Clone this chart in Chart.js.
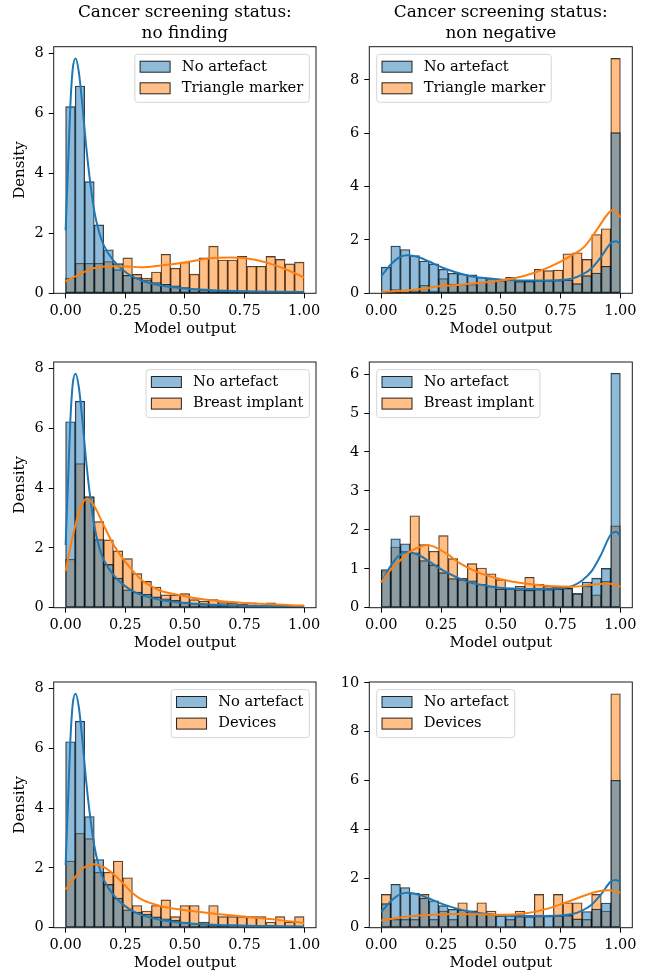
<!DOCTYPE html>
<html>
<head>
<meta charset="utf-8">
<script src="https://cdn.jsdelivr.net/npm/chart.js@4.4.0/dist/chart.umd.min.js"></script>
<style>
  html, body { margin: 0; padding: 0; background: #fff; }
  body { width: 647px; height: 976px; position: relative; overflow: hidden; }
  canvas { position: absolute; }
</style>
</head>
<body>
<canvas id="c0"></canvas>
<canvas id="c1"></canvas>
<canvas id="c2"></canvas>
<canvas id="c3"></canvas>
<canvas id="c4"></canvas>
<canvas id="c5"></canvas>
<script>
// bin centres (25 bins of width 0.04)
const binCenters = [0.02, 0.06, 0.10, 0.14, 0.18, 0.22, 0.26, 0.30, 0.34, 0.38, 0.42, 0.46, 0.50,
                    0.54, 0.58, 0.62, 0.66, 0.70, 0.74, 0.78, 0.82, 0.86, 0.90, 0.94, 0.98];

// histogram densities, status "no finding"
const noArtefactNoFinding = [6.22, 6.91, 3.72, 2.28, 1.45, 0.99, 0.60, 0.52, 0.45, 0.36, 0.30, 0.25, 0.19,
                             0.15, 0.12, 0.10, 0.08, 0.07, 0.06, 0.05, 0.05, 0.04, 0.04, 0.03, 0.03];
const triangleNoFinding = [0.51, 1.00, 1.00, 1.00, 1.06, 0.79, 1.18, 0.63, 0.51, 0.71, 1.30, 0.84, 1.04,
                           0.64, 1.18, 1.57, 1.11, 1.11, 1.23, 0.90, 0.90, 1.23, 1.13, 0.98, 1.04];
const implantNoFinding = [1.62, 4.82, 3.70, 2.88, 2.27, 1.90, 1.64, 1.14, 0.88, 0.69, 0.43, 0.43, 0.47,
                          0.27, 0.22, 0.27, 0.17, 0.16, 0.12, 0.16, 0.09, 0.16, 0.09, 0.09, 0.08];
const devicesNoFinding = [2.23, 3.16, 2.98, 1.86, 1.86, 2.23, 1.67, 0.74, 0.56, 0.74, 0.93, 0.37, 0.74,
                          0.74, 0.19, 0.74, 0.37, 0.37, 0.37, 0.37, 0.37, 0.19, 0.37, 0.19, 0.37];

// histogram densities, status "non negative"
const noArtefactNonNeg = [0.98, 1.77, 1.64, 1.41, 1.21, 1.10, 0.90, 0.75, 0.72, 0.69, 0.60, 0.55, 0.48,
                          0.50, 0.46, 0.45, 0.47, 0.47, 0.48, 0.50, 0.36, 0.66, 0.76, 1.01, 6.02];
const triangleNonNeg = [0.04, 0.14, 0.04, 0.08, 0.30, 0.08, 0.55, 0.35, 0.33, 0.33, 0.42, 0.47, 0.48,
                        0.60, 0.43, 0.45, 0.90, 0.85, 0.87, 1.48, 1.52, 1.27, 2.20, 2.42, 8.80];
const implantNonNeg = [0.95, 1.56, 1.45, 2.36, 1.62, 1.45, 1.85, 1.26, 0.76, 1.13, 1.02, 0.87, 0.72,
                       0.48, 0.55, 0.78, 0.60, 0.55, 0.52, 0.50, 0.36, 0.55, 0.33, 0.68, 2.10];
const devicesNonNeg = [1.36, 0.34, 0.34, 0.34, 1.36, 0.34, 0.68, 0.34, 1.02, 0.68, 1.02, 0.68, 0.00,
                       0.34, 0.68, 0.00, 1.36, 0.00, 1.36, 1.02, 1.02, 0.34, 1.36, 0.68, 9.55];

// KDE curves
const kdeNoArtNoFindingX = [0, 0.01, 0.02, 0.03, 0.042, 0.055, 0.07, 0.085, 0.10, 0.12, 0.14, 0.16, 0.20,
                            0.24, 0.28, 0.32, 0.40, 0.50, 0.60, 0.70, 0.80, 0.90, 1.00];
const kdeNoArtNoFindingY = [2.1, 4.2, 6.3, 7.5, 7.83, 7.4, 6.3, 5.0, 3.9, 2.75, 2.05, 1.6, 1.1,
                            0.78, 0.56, 0.42, 0.26, 0.16, 0.11, 0.08, 0.06, 0.05, 0.04];
const kdeTriangleNoFindingX = [0, 0.05, 0.114, 0.20, 0.26, 0.32, 0.39, 0.50, 0.60, 0.69, 0.755, 0.84, 0.92, 1.00];
const kdeTriangleNoFindingY = [0.40, 0.60, 0.83, 0.90, 0.89, 0.87, 0.92, 1.03, 1.16, 1.19, 1.17, 1.03, 0.81, 0.53];
const kdeImplantNoFindingX = [0, 0.03, 0.06, 0.09, 0.12, 0.16, 0.20, 0.24, 0.28, 0.32, 0.36, 0.40, 0.48, 0.56, 0.68, 0.84, 1.00];
const kdeImplantNoFindingY = [1.22, 2.4, 3.3, 3.65, 3.4, 2.75, 2.12, 1.64, 1.25, 0.92, 0.71, 0.56, 0.42, 0.30, 0.20, 0.12, 0.07];
const kdeDevicesNoFindingX = [0, 0.04, 0.08, 0.12, 0.16, 0.20, 0.24, 0.28, 0.32, 0.40, 0.48, 0.60, 0.76, 0.88, 1.00];
const kdeDevicesNoFindingY = [1.28, 1.69, 2.03, 2.12, 2.03, 1.80, 1.49, 1.16, 0.94, 0.72, 0.61, 0.49, 0.36, 0.27, 0.16];

const kdeNoArtNonNegX = [0, 0.04, 0.08, 0.11, 0.16, 0.20, 0.26, 0.36, 0.445, 0.52, 0.64, 0.75, 0.80,
                         0.84, 0.88, 0.92, 0.96, 0.983, 1.00];
const kdeNoArtNonNegY = [0.64, 1.08, 1.37, 1.43, 1.34, 1.19, 0.95, 0.67, 0.56, 0.50, 0.48, 0.50, 0.56,
                         0.70, 0.94, 1.37, 1.88, 1.95, 1.84];
const kdeTriangleNonNegX = [0, 0.16, 0.25, 0.32, 0.40, 0.50, 0.60, 0.70, 0.80, 0.85, 0.90, 0.95, 0.97, 1.00];
const kdeTriangleNonNegY = [0.04, 0.15, 0.27, 0.31, 0.38, 0.48, 0.66, 0.97, 1.44, 1.75, 2.36, 3.0, 3.13, 2.85];
const kdeImplantNonNegX = [0, 0.04, 0.08, 0.12, 0.16, 0.19, 0.22, 0.275, 0.33, 0.40, 0.50, 0.60, 0.70, 0.80, 0.90, 0.95, 1.00];
const kdeImplantNonNegY = [0.65, 0.98, 1.22, 1.44, 1.56, 1.61, 1.57, 1.38, 1.14, 0.92, 0.73, 0.62, 0.56, 0.54, 0.60, 0.62, 0.54];
const kdeDevicesNonNegX = [0, 0.10, 0.20, 0.30, 0.40, 0.50, 0.60, 0.70, 0.80, 0.90, 0.95, 1.00];
const kdeDevicesNonNegY = [0.29, 0.45, 0.52, 0.56, 0.55, 0.53, 0.58, 0.79, 1.13, 1.47, 1.53, 1.43];

// ticks
const xTicks = [0, 0.25, 0.5, 0.75, 1.0];
const yTicksEight = [0, 2, 4, 6, 8];
const yTicksSix = [0, 1, 2, 3, 4, 5, 6];
const yTicksTen = [0, 2, 4, 6, 8, 10];

const titleNoFinding = ['Cancer screening status:', 'no finding'];
const titleNonNeg = ['Cancer screening status:', 'non negative'];

const BLUE = '#1f77b4';
const ORANGE = '#ff7f0e';
const BLUE_FILL = 'rgba(31,119,180,0.5)';
const ORANGE_FILL = 'rgba(255,127,14,0.5)';
const FONT = "'DejaVu Serif', serif";

Chart.defaults.font.family = FONT;
Chart.defaults.color = '#000';

// axes boxes in page pixels
const colBox = [{ l: 53.7, r: 316, cl: 0, cw: 323 }, { l: 369.3, r: 632.3, cl: 323, cw: 324 }];
const rowBox = [{ t: 46.7, b: 293.3 }, { t: 362, b: 607.7 }, { t: 682, b: 927.7 }];

const panels = [
  { row: 0, col: 0, blue: noArtefactNoFinding, orange: triangleNoFinding, kb: [kdeNoArtNoFindingX, kdeNoArtNoFindingY],
    ko: [kdeTriangleNoFindingX, kdeTriangleNoFindingY], label: 'Triangle marker', yMax: 8.22, yTicks: yTicksEight, title: titleNoFinding },
  { row: 0, col: 1, blue: noArtefactNonNeg, orange: triangleNonNeg, kb: [kdeNoArtNonNegX, kdeNoArtNonNegY],
    ko: [kdeTriangleNonNegX, kdeTriangleNonNegY], label: 'Triangle marker', yMax: 9.24, yTicks: yTicksEight, title: titleNonNeg },
  { row: 1, col: 0, blue: noArtefactNoFinding, orange: implantNoFinding, kb: [kdeNoArtNoFindingX, kdeNoArtNoFindingY],
    ko: [kdeImplantNoFindingX, kdeImplantNoFindingY], label: 'Breast implant', yMax: 8.22, yTicks: yTicksEight },
  { row: 1, col: 1, blue: noArtefactNonNeg, orange: implantNonNeg, kb: [kdeNoArtNonNegX, kdeNoArtNonNegY],
    ko: [kdeImplantNonNegX, kdeImplantNonNegY], label: 'Breast implant', yMax: 6.31, yTicks: yTicksSix },
  { row: 2, col: 0, blue: noArtefactNoFinding, orange: devicesNoFinding, kb: [kdeNoArtNoFindingX, kdeNoArtNoFindingY],
    ko: [kdeDevicesNoFindingX, kdeDevicesNoFindingY], label: 'Devices', yMax: 8.22, yTicks: yTicksEight },
  { row: 2, col: 1, blue: noArtefactNonNeg, orange: devicesNonNeg, kb: [kdeNoArtNonNegX, kdeNoArtNonNegY],
    ko: [kdeDevicesNonNegX, kdeDevicesNonNegY], label: 'Devices', yMax: 10.03, yTicks: yTicksTen }
];

// matplotlib style frame round the axes
const framePlugin = {
  id: 'frame',
  afterDatasetsDraw(chart) {
    const { ctx, chartArea: a } = chart;
    ctx.save();
    ctx.strokeStyle = '#1a1a1a';
    ctx.lineWidth = 1;
    ctx.strokeRect(a.left, a.top, a.right - a.left, a.bottom - a.top);
    ctx.restore();
  }
};

// legend box drawn inside the axes
const legendPlugin = {
  id: 'boxLegend',
  afterDraw(chart, args, opts) {
    const { ctx, chartArea: a } = chart;
    ctx.save();
    ctx.font = '14.7px ' + FONT;
    const tw = Math.max(...opts.items.map(it => ctx.measureText(it.text).width));
    const bw = 47 + tw + 6;
    const bh = 48;
    const x0 = opts.side === 'right' ? a.right - 6.7 - bw : a.left + 7.4;
    const y0 = a.top + 7.6;
    ctx.beginPath();
    ctx.roundRect(x0, y0, bw, bh, 3);
    ctx.fillStyle = 'rgba(255,255,255,0.8)';
    ctx.fill();
    ctx.strokeStyle = '#d5d5d5';
    ctx.lineWidth = 1;
    ctx.stroke();
    opts.items.forEach((it, i) => {
      const cy = y0 + 12.4 + i * 21.6;
      ctx.fillStyle = it.color;
      ctx.fillRect(x0 + 5.3, cy - 5.5, 30, 11);
      ctx.strokeStyle = 'rgba(0,0,0,0.85)';
      ctx.strokeRect(x0 + 5.3, cy - 5.5, 30, 11);
      ctx.fillStyle = '#000';
      ctx.textBaseline = 'middle';
      ctx.fillText(it.text, x0 + 47, cy);
    });
    ctx.restore();
  }
};

function barSet(vals, fill, order) {
  return {
    type: 'bar',
    data: binCenters.map((x, i) => ({ x: x, y: vals[i] })),
    backgroundColor: fill,
    borderColor: 'rgba(0,0,0,0.8)',
    borderWidth: 0.7,
    borderSkipped: false,
    grouped: false,
    barPercentage: 1,
    categoryPercentage: 1,
    order: order
  };
}

function lineSet(kde, color, order) {
  return {
    type: 'line',
    data: kde[0].map((x, i) => ({ x: x, y: kde[1][i] })),
    borderColor: color,
    borderWidth: 2,
    pointRadius: 0,
    fill: false,
    cubicInterpolationMode: 'monotone',
    order: order
  };
}

panels.forEach((p, idx) => {
  const c = colBox[p.col];
  const r = rowBox[p.row];
  const top = p.row === 0 ? 0 : r.t - 30;
  const bottom = r.b + 48;
  const canvas = document.getElementById('c' + idx);
  canvas.width = c.cw;
  canvas.height = Math.round(bottom - top);
  canvas.style.left = c.cl + 'px';
  canvas.style.top = top + 'px';

  const xAxisH = canvas.height - (r.b - top);
  const yAxisW = c.l - c.cl;
  const titleSize = 16.9;
  const titleLh = 21;

  new Chart(canvas, {
    type: 'bar',
    data: {
      datasets: [
        lineSet(p.ko, ORANGE, 0),
        lineSet(p.kb, BLUE, 1),
        barSet(p.blue, BLUE_FILL, 2),
        barSet(p.orange, ORANGE_FILL, 3)
      ]
    },
    options: {
      responsive: false,
      animation: false,
      devicePixelRatio: 1,
      layout: { padding: { top: p.row === 0 ? 0 : r.t - top, right: c.cl + c.cw - c.r, bottom: 0, left: 0 } },
      plugins: {
        legend: { display: false },
        tooltip: { enabled: false },
        title: {
          display: !!p.title,
          text: p.title || '',
          fullSize: false,
          font: { size: titleSize, weight: 'normal', lineHeight: titleLh / titleSize },
          color: '#000',
          padding: { top: 12.5 - titleLh / 2, bottom: r.t - (12.5 - titleLh / 2) - 2 * titleLh }
        },
        boxLegend: {
          side: p.col === 0 ? 'right' : 'left',
          items: [{ text: 'No artefact', color: BLUE_FILL }, { text: p.label, color: ORANGE_FILL }]
        }
      },
      scales: {
        x: {
          type: 'linear',
          min: -0.05,
          max: 1.05,
          offset: false,
          afterBuildTicks: s => { s.ticks = xTicks.map(v => ({ value: v })); },
          afterFit: s => { s.height = xAxisH; s.paddingLeft = 0; s.paddingRight = 0; },
          ticks: { callback: v => Number(v).toFixed(2), font: { size: 14.5 }, color: '#000', padding: 4, maxRotation: 0, autoSkip: false },
          grid: { drawOnChartArea: false, drawTicks: true, tickLength: 5, tickColor: '#000', tickWidth: 1, offset: false },
          border: { display: false },
          title: { display: true, text: 'Model output', font: { size: 15, lineHeight: 1.2 }, color: '#000',
                   padding: { top: 0, bottom: xAxisH - 35.6 - 9 } }
        },
        y: {
          min: 0,
          max: p.yMax,
          afterBuildTicks: s => { s.ticks = p.yTicks.map(v => ({ value: v })); },
          afterFit: s => { s.width = yAxisW; s.paddingTop = 0; s.paddingBottom = 0; },
          ticks: { callback: v => String(v), font: { size: 14.5 }, color: '#000', padding: 5 },
          grid: { drawOnChartArea: false, drawTicks: true, tickLength: 5, tickColor: '#000', tickWidth: 1 },
          border: { display: false },
          title: { display: p.col === 0, text: 'Density', font: { size: 15, lineHeight: 1.2 }, color: '#000',
                   padding: { top: 10.7, bottom: 0 } }
        }
      }
    },
    plugins: [framePlugin, legendPlugin]
  });
});
</script>
</body>
</html>
